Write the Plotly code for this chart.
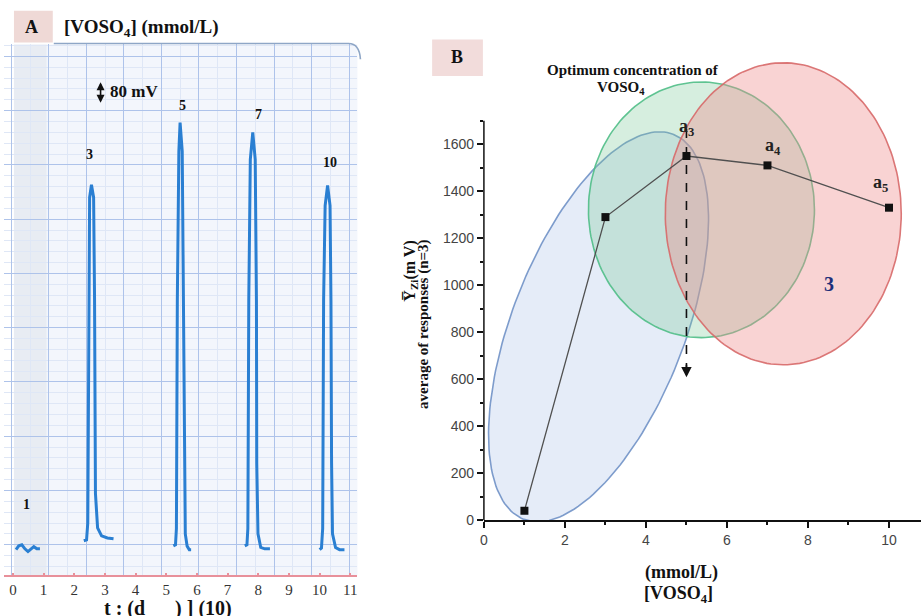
import numpy as np
import plotly.graph_objects as go

W, H = 921, 616

# ---------------- Panel B data ----------------
conc = [1, 3, 5, 7, 10]
resp = [40, 1290, 1550, 1510, 1330]
resp_labels = ["", "", "a<sub>3</sub>", "a<sub>4</sub>", "a<sub>5</sub>"]
b_xticks = [0, 2, 4, 6, 8, 10]
b_xminor = [1, 3, 5, 7, 9]
b_yticks = [0, 200, 400, 600, 800, 1000, 1200, 1400, 1600]
b_yminor = [100, 300, 500, 700, 900, 1100, 1300, 1500, 1700]
optimum_conc = 5
arrow_span = [1665, 608]
# ellipse regions (centre in data units, semi-axes in px, tilt in degrees)
ell_blue = dict(cx=2.83, cy=823, a=209, b=87, ang=69)
ell_green = dict(cx=5.37, cy=1321, a=113.5, b=129.5, ang=0)
ell_red = dict(cx=7.39, cy=1304, a=118.5, b=153, ang=0)

# ---------------- Panel A data (recorder trace) ----------------
c1_t = [0.10, 0.19, 0.29, 0.39, 0.49, 0.58, 0.68, 0.78, 0.88]
c1_mv = [-18, -4, 0, -15, -25, -18, -7, -15, -15]
p3_t = [2.31, 2.40, 2.44, 2.47, 2.50, 2.56, 2.63, 2.66, 2.69, 2.76, 2.89, 3.08, 3.28]
p3_mv = [15, 18, 80, 916, 1280, 1327, 1280, 916, 189, 62, 33, 25, 22]
p5_t = [5.23, 5.30, 5.33, 5.36, 5.41, 5.45, 5.52, 5.56, 5.59, 5.62, 5.68, 5.75, 5.81]
p5_mv = [-4, 0, 60, 900, 1450, 1556, 1450, 900, 300, 40, -5, -18, -18]
p7_t = [7.56, 7.63, 7.66, 7.69, 7.74, 7.82, 7.90, 7.94, 7.95, 7.99, 8.08, 8.21, 8.38]
p7_mv = [-4, 0, 60, 900, 1420, 1520, 1420, 900, 300, 40, -10, -15, -15]
p10_t = [10.00, 10.06, 10.10, 10.13, 10.18, 10.26, 10.34, 10.37, 10.39, 10.42, 10.52, 10.65, 10.81]
p10_mv = [-18, -12, 60, 900, 1250, 1324, 1250, 900, 300, 40, -10, -18, -18]
peak_names = ["3", "5", "7", "10"]
a_xticks = list(range(12))
a_xticktext = [str(v) for v in a_xticks]

# ---------------- helpers ----------------
def px(p):
    return p / W

def py(p):
    return 1 - p / H

SERIF = "Liberation Serif"
SANS = "Liberation Sans"

bx_dom = [px(482), 1.0]
by_dom = [py(527), py(40)]
bx_rng = [0, 10.79]
by_rng = [0, 2046]
kx = (W * (bx_dom[1] - bx_dom[0])) / (bx_rng[1] - bx_rng[0])
ky = (H * (by_dom[1] - by_dom[0])) / (by_rng[1] - by_rng[0])

ax_dom = [0.0, px(355)]
ay_dom = [py(583), py(45)]
ax_rng = [-0.292, 11.234]
ay_rng = [-113, 1844]


def ellipse(e):
    t = np.linspace(0, 2 * np.pi, 181)
    th = np.radians(e["ang"])
    u = e["a"] * np.cos(t) * np.cos(th) - e["b"] * np.sin(t) * np.sin(th)
    v = e["a"] * np.cos(t) * np.sin(th) + e["b"] * np.sin(t) * np.cos(th)
    return e["cx"] + u / kx, e["cy"] + v / ky


fig = go.Figure()

for e, fc, lc in [
    (ell_blue, "rgba(150,180,228,0.25)", "rgba(105,140,195,0.85)"),
    (ell_green, "rgba(120,200,150,0.30)", "rgba(80,190,135,0.9)"),
    (ell_red, "rgba(240,140,140,0.38)", "rgba(215,105,105,0.9)"),
]:
    ex, ey = ellipse(e)
    fig.add_trace(go.Scatter(x=ex, y=ey, mode="lines", fill="toself", fillcolor=fc,
                             line=dict(color=lc, width=1.6), hoverinfo="skip",
                             showlegend=False, xaxis="x", yaxis="y"))

fig.add_trace(go.Scatter(x=[optimum_conc, optimum_conc], y=[arrow_span[0], arrow_span[1] + 40],
                         mode="lines", line=dict(color="#111", width=1.6, dash="dash"),
                         showlegend=False, xaxis="x", yaxis="y"))

fig.add_trace(go.Scatter(x=conc, y=resp, mode="lines+markers",
                         line=dict(color="#505050", width=1.3),
                         marker=dict(symbol="square", size=8, color="#111"),
                         showlegend=False, xaxis="x", yaxis="y", cliponaxis=False))

fig.add_trace(go.Scatter(x=[1.0], y=[0], mode="markers", marker=dict(size=1, color="rgba(0,0,0,0)"),
                         showlegend=False, xaxis="x2", yaxis="y2"))
peaks = [(c1_t, c1_mv), (p3_t, p3_mv), (p5_t, p5_mv), (p7_t, p7_mv), (p10_t, p10_mv)]
for tt, mv in peaks:
    fig.add_trace(go.Scatter(x=tt, y=mv, mode="lines", line=dict(color="#2a7fd2", width=3),
                             showlegend=False, xaxis="x3", yaxis="y2"))

annotations = []
shapes = []

label_shift = [(-2, 30), (2, 17), (6, 18), (2, 23)]
for (tt, mv), name, (dx, dy) in zip(peaks[1:], peak_names, label_shift):
    i = int(np.argmax(mv))
    annotations.append(dict(x=tt[i], y=mv[i], xref="x3", yref="y2", text=f"<b>{name}</b>",
                            showarrow=False, xshift=dx, yshift=dy,
                            font=dict(family=SERIF, size=14, color="#111")))
annotations.append(dict(x=c1_t[len(c1_t) // 2], y=max(c1_mv), xref="x3", yref="y2", text="<b>1</b>",
                        showarrow=False, yshift=40, xshift=-1,
                        font=dict(family=SERIF, size=14, color="#111")))

pl_shift = [(0, 0), (0, 0), (0, 29), (6, 19), (-8, 24)]
for x, y, lab, (dx, dy) in zip(conc, resp, resp_labels, pl_shift):
    if lab:
        annotations.append(dict(x=x, y=y, xref="x", yref="y", text=f"<b>{lab}</b>", showarrow=False,
                                xshift=dx, yshift=dy,
                                font=dict(family=SERIF, size=18, color="#222")))

annotations.append(dict(x=optimum_conc, y=arrow_span[1], ax=optimum_conc, ay=arrow_span[1] + 60,
                        xref="x", yref="y", axref="x", ayref="y", text="", showarrow=True,
                        arrowhead=2, arrowsize=1.3, arrowwidth=1.6, arrowcolor="#111"))


def ptext(x, y, text, size, color="#111", angle=0, xanchor="center"):
    return dict(x=px(x), y=py(y), xref="paper", yref="paper", text=text, showarrow=False,
                xanchor=xanchor, yanchor="middle", textangle=angle,
                font=dict(family=SERIF, size=size, color=color))


annotations += [
    ptext(455, 58, "<b>B</b>", 18),
    ptext(632, 71, "<b>Optimum concentration of</b>", 15),
    ptext(620, 89, "<b>VOSO<sub>4</sub></b>", 15),
    ptext(829, 288, "<b>3</b>", 20, color="#1f2f7a"),
    ptext(680, 580, "<b>(mmol/L)</b>", 18),
    ptext(677, 602, "<b>[VOSO<sub>4</sub>]</b>", 18),
    ptext(408, 275, "<b>Y\u0305<sub>Zi</sub>(m V)</b>", 16, angle=-90),
    ptext(422, 328, "<b>average of responses (n=3)</b>", 15, angle=-90),
]

annotations += [
    ptext(28, 27, "<b>A</b>", 18),
    ptext(58, 28, "<b>[VOSO<sub>4</sub>] (mmol/L)</b>", 19, xanchor="left"),
    ptext(104, 93, "<b>80 mV</b>", 17, xanchor="left"),
    dict(x=px(97), y=py(104), ax=0, ay=-22, xref="paper", yref="paper", text="", showarrow=True,
         arrowside="end+start", arrowhead=2, arrowsize=1, arrowwidth=1.6, arrowcolor="#111"),
    dict(x=px(165), y=py(603), xref="paper", yref="paper", xanchor="center", yanchor="top",
         text="<b>t : (d\u00a0\u00a0\u00a0\u00a0\u00a0\u00a0) ] (10)</b>", showarrow=False,
         font=dict(family=SERIF, size=20, color="#111")),
]

shapes += [
    dict(type="rect", xref="paper", yref="paper", x0=px(10), x1=px(43), y0=py(583), y1=py(45),
         fillcolor="#e8ecf3", line=dict(width=0), layer="below"),
    dict(type="rect", xref="paper", yref="paper", x0=px(43), x1=px(355), y0=py(583), y1=py(45),
         fillcolor="#f3f6fc", line=dict(width=0), layer="below"),
    dict(type="rect", xref="paper", yref="paper", x0=px(10), x1=px(49), y0=py(43), y1=py(11),
         fillcolor="#efd9d6", line=dict(width=0), layer="below"),
    dict(type="rect", xref="paper", yref="paper", x0=px(430), x1=px(481), y0=py(77), y1=py(40),
         fillcolor="#f2dcdb", line=dict(width=0), layer="below"),
    dict(type="path", xref="paper", yref="paper",
         path=f"M {px(50)},{py(44)} L {px(346)},{py(44)} Q {px(357)},{py(44)} {px(358)},{py(60)}",
         line=dict(color="#8ea6c6", width=1.6)),
    dict(type="line", xref="x domain", yref="y", x0=0, x1=0, y0=0, y1=1700,
         line=dict(color="#111", width=1.5)),
]

fig.update_layout(
    width=W, height=H, autosize=False,
    margin=dict(l=0, r=0, t=0, b=0),
    paper_bgcolor="white", plot_bgcolor="rgba(0,0,0,0)",
    showlegend=False,
    annotations=annotations, shapes=shapes,
    xaxis=dict(domain=bx_dom, range=bx_rng, anchor="y", showgrid=False, zeroline=False,
               showline=True, linecolor="#111", linewidth=1.5,
               tickmode="array", tickvals=b_xticks, ticks="outside", ticklen=6, tickwidth=1.5,
               tickcolor="#111", tickfont=dict(family=SANS, size=14, color="#444"),
               minor=dict(tickmode="array", tickvals=b_xminor, ticks="outside", ticklen=3,
                          tickwidth=1.5, tickcolor="#111")),
    yaxis=dict(domain=by_dom, range=by_rng, anchor="x", showgrid=False, zeroline=False,
               showline=False,
               tickmode="array", tickvals=b_yticks, ticks="outside", ticklen=6, tickwidth=1.5,
               tickcolor="#111", tickfont=dict(family=SANS, size=14, color="#444"),
               minor=dict(tickmode="array", tickvals=b_yminor, ticks="outside", ticklen=3,
                          tickwidth=1.5, tickcolor="#111")),
    xaxis2=dict(domain=ax_dom, range=ax_rng, anchor="y2", showticklabels=False, ticks="",
                showgrid=True, gridcolor="#aec3ea", gridwidth=1, tick0=1.169, dtick=1.224,
                zeroline=False, showline=False,
                minor=dict(showgrid=True, gridcolor="#dfe7f6", tick0=1.169, dtick=0.612)),
    xaxis3=dict(overlaying="x2", anchor="y2", range=ax_rng, showgrid=False, zeroline=False,
                showline=True, linecolor="#e8909a", linewidth=1.5,
                tickmode="array", tickvals=a_xticks, ticktext=a_xticktext,
                ticks="inside", ticklen=3, tickcolor="#e8909a", tickwidth=2,
                tickfont=dict(family=SERIF, size=15, color="#333")),
    yaxis2=dict(domain=ay_dom, range=ay_rng, anchor="x2", showticklabels=False, ticks="",
                showgrid=True, gridcolor="#aec3ea", gridwidth=1, tick0=0, dtick=200,
                zeroline=False, showline=False,
                minor=dict(showgrid=True, gridcolor="#dfe7f6", tick0=0, dtick=40)),
)

fig.write_html("out.html", config={"displayModeBar": False},
               post_script="document.body.style.margin='0px';")
